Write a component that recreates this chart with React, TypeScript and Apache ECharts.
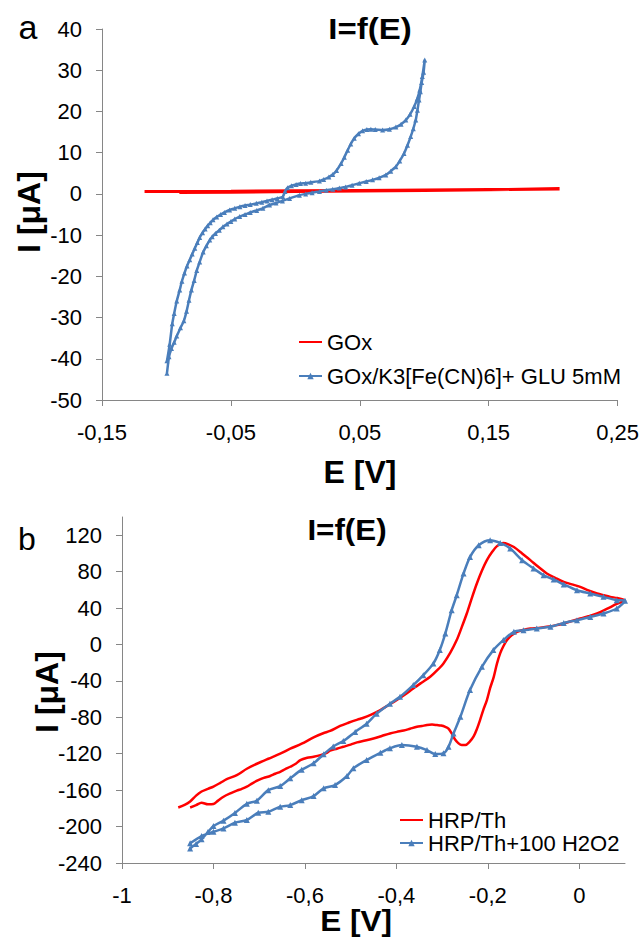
import React, { useEffect, useRef } from "react";
import * as echarts from "echarts";

const FONT = '"Liberation Sans", Arial, sans-serif';
const BLUE = "#4A7EBB";
const RED = "#FF0000";
const AXIS = "#868686";

// ---- panel a ----
const topXTicks = [-0.15, -0.05, 0.05, 0.15, 0.25];
const goxPoints: [number, number][] = [
  [-0.09, 0.35], [-0.05, 0.4], [0.0, 0.55], [0.05, 0.7], [0.1, 0.85], [0.15, 1.0], [0.205, 1.2],
  [0.15, 1.05], [0.1, 0.95], [0.05, 0.85], [0.0, 0.75], [-0.05, 0.65], [-0.1, 0.6], [-0.117, 0.6],
];
const goxFePoints: [number, number][] = [
  [-0.0996, -40.5], [-0.0975, -36.5], [-0.0955, -31.5], [-0.094, -29], [-0.092, -26], [-0.0897, -23.3],
  [-0.088, -21.2], [-0.086, -19.2], [-0.084, -17.5], [-0.0819, -16], [-0.08, -14.6], [-0.078, -13.2],
  [-0.076, -11.8], [-0.0742, -10.6], [-0.072, -9.4], [-0.07, -8.5], [-0.068, -7.7], [-0.066, -7.0],
  [-0.0639, -6.3], [-0.061, -5.6], [-0.058, -5.0], [-0.055, -4.5], [-0.051, -3.9], [-0.047, -3.5],
  [-0.043, -3.1], [-0.039, -2.8], [-0.035, -2.6], [-0.0303, -2.3], [-0.026, -2.0], [-0.022, -1.7],
  [-0.018, -1.4], [-0.014, -1.1], [-0.0097, -0.7], [-0.008, 0.6], [-0.006, 1.5], [-0.003, 2.0],
  [0.0006, 2.3], [0.004, 2.5], [0.008, 2.6], [0.012, 2.8], [0.0187, 3.1], [0.022, 3.5], [0.026, 4.1],
  [0.029, 4.7], [0.032, 5.7], [0.0355, 7.4], [0.038, 8.9], [0.0406, 10.6], [0.043, 12.1], [0.0457, 13.5],
  [0.049, 14.6], [0.0522, 15.3], [0.0555, 15.6], [0.0586, 15.7], [0.062, 15.6], [0.0677, 15.5],
  [0.073, 15.7], [0.078, 16.2], [0.082, 16.9], [0.0857, 17.9], [0.089, 19.3], [0.0922, 21.2],
  [0.0945, 23.0], [0.0965, 25.2], [0.0985, 28.5], [0.1004, 32.5],
  [0.0995, 29.5], [0.098, 27.0], [0.097, 24.8], [0.096, 22.8], [0.0947, 20.3], [0.0934, 17.9],
  [0.0915, 15.8], [0.0895, 13.9], [0.087, 11.8], [0.0843, 9.8], [0.081, 8.0], [0.078, 6.6],
  [0.074, 5.5], [0.0702, 4.6], [0.065, 3.9], [0.0599, 3.4], [0.055, 3.0], [0.0496, 2.6], [0.044, 2.1],
  [0.039, 1.7], [0.0341, 1.4], [0.029, 1.1], [0.024, 0.9], [0.0187, 0.6], [0.013, 0.3], [0.008, 0.0],
  [0.0032, -0.3], [-0.0045, -1.1], [-0.01, -1.7], [-0.015, -2.2], [-0.02, -2.7], [-0.0252, -3.5],
  [-0.03, -4.0], [-0.035, -4.5], [-0.039, -5.0], [-0.0432, -5.5], [-0.047, -6.1], [-0.05, -6.7],
  [-0.053, -7.3], [-0.0562, -8.0], [-0.059, -8.8], [-0.062, -9.6], [-0.0645, -10.4], [-0.0664, -11.2],
  [-0.069, -12.6], [-0.0715, -14.1], [-0.0742, -16.5], [-0.0765, -18.6], [-0.0785, -21.0],
  [-0.0806, -23.3], [-0.0825, -25.8], [-0.0844, -28.5], [-0.0865, -30.8], [-0.0891, -32.5],
  [-0.092, -34.5], [-0.094, -36], [-0.0961, -37.5], [-0.098, -39.5], [-0.0996, -43.5],
];

// ---- panel b ----
const bottomXTicks = [-1, -0.8, -0.6, -0.4, -0.2, 0];
const bottomYTicks = [-240, -200, -160, -120, -80, -40, 0, 40, 80, 120];
const hrpPoints: [number, number][] = [
  [-0.877, -179], [-0.862, -176], [-0.851, -172.5], [-0.838, -166], [-0.826, -161.5], [-0.812, -158.5],
  [-0.8, -156], [-0.785, -152], [-0.771, -148], [-0.749, -143.5], [-0.727, -136.5], [-0.705, -131],
  [-0.68, -125.5], [-0.654, -120], [-0.632, -114.5], [-0.607, -109], [-0.581, -102], [-0.56, -97.5],
  [-0.545, -95], [-0.523, -89.5], [-0.505, -86], [-0.485, -82.5], [-0.475, -81], [-0.455, -77],
  [-0.435, -72], [-0.417, -66.5], [-0.399, -61], [-0.381, -55], [-0.363, -48.3], [-0.345, -42],
  [-0.326, -35.5], [-0.31, -28], [-0.297, -20.8], [-0.282, -9], [-0.268, 4.8], [-0.257, 19],
  [-0.246, 34], [-0.235, 51], [-0.224, 67], [-0.213, 81], [-0.202, 92.6], [-0.19, 102], [-0.18, 108],
  [-0.166, 111.5], [-0.155, 110], [-0.143, 107], [-0.125, 100], [-0.107, 92.6], [-0.089, 85],
  [-0.071, 78], [-0.052, 73], [-0.034, 68.7], [-0.016, 66], [0.002, 63.3], [0.02, 59.5], [0.039, 56],
  [0.054, 54], [0.068, 52.3], [0.083, 51], [0.1, 48.5],
  [0.082, 44.5], [0.06, 39], [0.039, 34], [0.02, 31], [0.002, 28.6], [-0.016, 25.8], [-0.034, 23],
  [-0.052, 21], [-0.071, 19.4], [-0.089, 18.2], [-0.107, 17.5], [-0.122, 16], [-0.136, 13.9],
  [-0.148, 10], [-0.158, 4.8], [-0.166, -2], [-0.173, -9.8], [-0.18, -21], [-0.187, -35.5],
  [-0.195, -48], [-0.202, -61], [-0.21, -72], [-0.217, -83], [-0.224, -93], [-0.231, -101],
  [-0.24, -107], [-0.249, -110.5], [-0.257, -110.5], [-0.264, -108.6], [-0.272, -104], [-0.279, -97.7],
  [-0.286, -92.5], [-0.293, -90.4], [-0.302, -89], [-0.311, -88.5], [-0.322, -88], [-0.333, -88.5],
  [-0.344, -89.5], [-0.355, -90.4], [-0.37, -92.5], [-0.384, -94.5], [-0.399, -96], [-0.414, -97.7],
  [-0.432, -100.5], [-0.45, -103.2], [-0.468, -105.5], [-0.486, -107.5], [-0.5, -110], [-0.516, -112.4],
  [-0.53, -114.5], [-0.545, -116.5], [-0.552, -119], [-0.566, -121.5], [-0.581, -123.3],
  [-0.595, -124.5], [-0.61, -127], [-0.62, -131], [-0.632, -134.3], [-0.643, -137], [-0.654, -139.8],
  [-0.665, -142], [-0.676, -144.5], [-0.69, -146.5], [-0.702, -149], [-0.715, -152.5],
  [-0.727, -156.2], [-0.738, -158.5], [-0.749, -160.6], [-0.763, -163.5], [-0.778, -167.2],
  [-0.79, -171.5], [-0.8, -175.2], [-0.812, -175.5], [-0.826, -173.8], [-0.838, -176.5], [-0.851, -179],
];
const hrpH2o2Points: [number, number][] = [
  [-0.851, -224], [-0.838, -219], [-0.826, -214], [-0.812, -206], [-0.8, -199.5], [-0.778, -193.5],
  [-0.753, -185], [-0.727, -175], [-0.705, -171.5], [-0.68, -160], [-0.654, -155.5], [-0.632, -147],
  [-0.607, -137.5], [-0.581, -130.5], [-0.559, -120.5], [-0.538, -112], [-0.516, -106], [-0.49, -96],
  [-0.465, -87], [-0.443, -76], [-0.414, -65], [-0.392, -57.5], [-0.363, -44.6], [-0.341, -33.7],
  [-0.319, -20.8], [-0.305, -6], [-0.293, 12], [-0.279, 37.7], [-0.268, 54], [-0.253, 78],
  [-0.239, 96], [-0.22, 109], [-0.195, 114.5], [-0.173, 111.5], [-0.151, 105.4], [-0.125, 92.6],
  [-0.1, 83.4], [-0.078, 76], [-0.056, 71.4], [-0.034, 66], [-0.005, 59.6], [0.024, 56], [0.053, 52.3],
  [0.082, 48.7], [0.1, 48],
  [0.082, 39.5], [0.053, 34], [0.024, 30.3], [-0.005, 26.7], [-0.034, 23.7], [-0.063, 19.4],
  [-0.093, 17.6], [-0.122, 15.7], [-0.143, 13.9], [-0.166, 4.8], [-0.188, -6.2], [-0.213, -24.5],
  [-0.239, -50], [-0.26, -79.4], [-0.275, -97.7], [-0.286, -112.4], [-0.297, -119.6], [-0.315, -120.4],
  [-0.333, -116], [-0.355, -112.4], [-0.388, -110.5], [-0.414, -114], [-0.435, -119], [-0.465, -127],
  [-0.494, -136], [-0.508, -144.5], [-0.534, -154.4], [-0.559, -158], [-0.581, -166.5],
  [-0.607, -171], [-0.632, -176.4], [-0.654, -178.2], [-0.68, -183.7], [-0.702, -184.8],
  [-0.727, -192.8], [-0.753, -195.8], [-0.778, -202], [-0.8, -205.7], [-0.826, -210.4], [-0.851, -218.4],
];

const commaFmt = (v: number) => String(Math.round(v * 100) / 100).replace(".", ",");

function axisBase(extra: any) {
  return {
    type: "value",
    axisLine: { show: true, onZero: false, lineStyle: { color: AXIS, width: 1 } },
    axisTick: { show: true, inside: false, length: 6, lineStyle: { color: AXIS, width: 1 } },
    splitLine: { show: false },
    axisLabel: { color: "#000", fontSize: 21, fontFamily: FONT },
    ...extra,
  };
}

function textEl(text: string, x: number, y: number, size: number, bold: boolean, rotation = 0, scaleX = 1) {
  return {
    type: "text",
    x,
    y,
    rotation,
    scaleX,
    silent: true,
    style: {
      text,
      fill: "#000",
      fontSize: size,
      fontWeight: bold ? "bold" : "normal",
      fontFamily: FONT,
      textAlign: "center",
      textVerticalAlign: "middle",
    },
  };
}

export default function App() {
  const ref = useRef<HTMLDivElement>(null);
  useEffect(() => {
    if (!ref.current) return;
    const chart = echarts.init(ref.current, undefined, { renderer: "svg" });
    const legendText = { fontSize: 22, lineHeight: 22, color: "#000", fontFamily: FONT };
    const lab = { color: "#000", fontSize: 22, fontFamily: FONT };
    chart.setOption({
      animation: false,
      textStyle: { fontFamily: FONT },
      grid: [
        { left: 102, top: 29, width: 517, height: 371 },
        { left: 122, top: 517, width: 503, height: 346 },
      ],
      xAxis: [
        axisBase({
          gridIndex: 0, min: -0.15, max: 0.25,
          axisTick: { show: true, length: 6, customValues: topXTicks, lineStyle: { color: AXIS } },
          axisLabel: { ...lab, customValues: topXTicks, formatter: commaFmt, margin: 21 },
        }),
        axisBase({
          gridIndex: 1, min: -1, max: 0.1,
          axisTick: { show: true, length: 6, customValues: bottomXTicks, lineStyle: { color: AXIS } },
          axisLabel: { ...lab, customValues: bottomXTicks, formatter: commaFmt, margin: 21 },
        }),
      ],
      yAxis: [
        axisBase({
          gridIndex: 0, min: -50, max: 40, interval: 10,
          axisLabel: { ...lab, margin: 20 },
        }),
        axisBase({
          gridIndex: 1, min: -240, max: 140, interval: 40,
          axisTick: { show: true, length: 6, customValues: bottomYTicks, lineStyle: { color: AXIS } },
          axisLabel: { ...lab, customValues: bottomYTicks, margin: 20 },
        }),
      ],
      legend: [
        {
          data: [
            { name: "GOx", itemStyle: { opacity: 0 } },
            { name: "GOx/K3[Fe(CN)6]+ GLU 5mM" },
          ],
          orient: "vertical", left: 298, top: 331, itemGap: 12, itemWidth: 23, itemHeight: 8,
          padding: 0, textStyle: legendText, selectedMode: false,
        },
        {
          data: [
            { name: "HRP/Th", itemStyle: { opacity: 0 } },
            { name: "HRP/Th+100 H2O2" },
          ],
          orient: "vertical", left: 399, top: 809, itemGap: 1, itemWidth: 23, itemHeight: 8,
          padding: 0, textStyle: legendText, selectedMode: false,
        },
      ],
      series: [
        {
          name: "GOx", type: "line", xAxisIndex: 0, yAxisIndex: 0, data: goxPoints,
          symbol: "none", lineStyle: { color: RED, width: 3 }, itemStyle: { color: RED }, silent: true,
        },
        {
          name: "GOx/K3[Fe(CN)6]+ GLU 5mM", type: "line", xAxisIndex: 0, yAxisIndex: 0, data: goxFePoints,
          symbol: "triangle", symbolSize: 5, showSymbol: true, smooth: 0.2,
          lineStyle: { color: BLUE, width: 2.5 }, itemStyle: { color: BLUE }, silent: true,
        },
        {
          name: "HRP/Th", type: "line", xAxisIndex: 1, yAxisIndex: 1, data: hrpPoints,
          symbol: "none", smooth: 0.3, lineStyle: { color: RED, width: 2.5 }, itemStyle: { color: RED }, silent: true,
        },
        {
          name: "HRP/Th+100 H2O2", type: "line", xAxisIndex: 1, yAxisIndex: 1, data: hrpH2o2Points,
          symbol: "triangle", symbolSize: 6, showSymbol: true, smooth: 0.3,
          lineStyle: { color: BLUE, width: 2.5 }, itemStyle: { color: BLUE }, silent: true,
        },
      ],
      graphic: [
        textEl("a", 28, 27, 34, false),
        textEl("b", 27, 539, 32, false),
        textEl("I=f(E)", 370, 29, 30, true, 0, 1.1),
        textEl("I=f(E)", 347, 530, 29, true, 0, 1.08),
        textEl("E [V]", 360, 472, 32, true),
        textEl("E [V]", 356, 921, 30, true, 0, 1.05),
        textEl("I [μA]", 29, 212, 32, true, Math.PI / 2),
        textEl("I [μA]", 47, 692, 32, true, Math.PI / 2),
      ],
    });
    return () => chart.dispose();
  }, []);
  return (
    <div
      ref={ref}
      style={{ position: "fixed", left: 0, top: 0, width: 642, height: 938, background: "#fff" }}
    />
  );
}
